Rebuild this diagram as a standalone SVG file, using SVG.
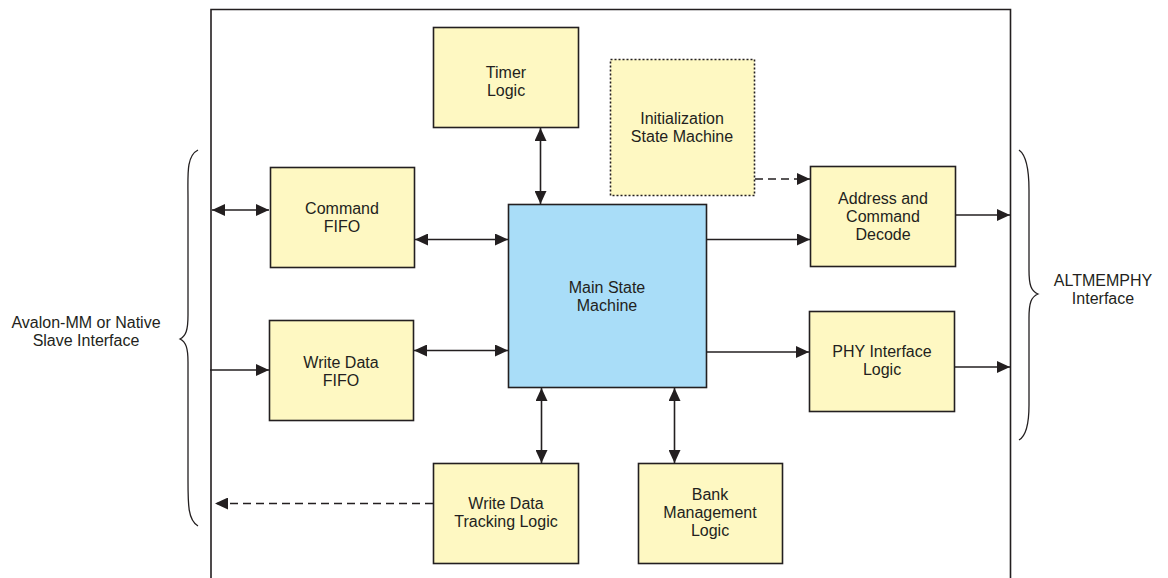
<svg xmlns="http://www.w3.org/2000/svg" width="1168" height="578" viewBox="0 0 1168 578">
<defs>
<marker id="ah" viewBox="0 0 13 12" refX="13" refY="6" markerWidth="13" markerHeight="12" markerUnits="userSpaceOnUse" orient="auto-start-reverse">
<path d="M0,0 L13,6 L0,12 Z" fill="#231f20"/>
</marker>
</defs>
<style>
.box{fill:#fef8c2;stroke:#231f20;stroke-width:1.6}
.main{fill:#a9ddf8;stroke:#231f20;stroke-width:1.6}
.dot{stroke-dasharray:2 2}
.t{font-family:"Liberation Sans",Arial,sans-serif;font-size:16px;fill:#231f20;text-anchor:middle}
.c{stroke:#231f20;stroke-width:1.6;fill:none}
.ds{stroke-dasharray:8 5}
.br{stroke:#231f20;stroke-width:1.3;fill:none}
</style>
<rect width="1168" height="578" fill="#fff"/>
<g id="frame">
<path class="c" d="M211,580 L211,9.5 L1010.5,9.5 L1010.5,580"/>
</g>
<g id="left-interface">
<path class="br" d="M198,150 C186,156 188,175 188,200 L188,315 C188,330 186,336 180,339 C186,342 188,348 188,362 L188,480 C188,505 188,520 198,526"/>
<text class="t" x="86" y="328">Avalon-MM or Native</text>
<text class="t" x="86" y="346">Slave Interface</text>
</g>
<g id="right-interface">
<path class="br" d="M1019,150 C1026,155 1029,170 1029,190 L1029,270 C1029,285 1031,291 1038,294 C1031,297 1029,303 1029,318 L1029,405 C1029,425 1026,436 1019,440"/>
<text class="t" x="1103" y="286">ALTMEMPHY</text>
<text class="t" x="1103" y="304">Interface</text>
</g>
<g id="timer">
<rect class="box" x="433.5" y="27.5" width="145" height="100"/>
<text class="t" x="506" y="78">Timer</text>
<text class="t" x="506" y="96">Logic</text>
</g>
<g id="init">
<rect class="box dot" x="610.5" y="59.5" width="144" height="136"/>
<text class="t" x="682" y="124">Initialization</text>
<text class="t" x="682" y="142">State Machine</text>
</g>
<g id="cmdfifo">
<rect class="box" x="270.5" y="167.5" width="144" height="100"/>
<text class="t" x="342" y="214">Command</text>
<text class="t" x="342" y="232">FIFO</text>
</g>
<g id="main">
<rect class="main" x="508.5" y="204.5" width="198" height="183"/>
<text class="t" x="607" y="293">Main State</text>
<text class="t" x="607" y="311">Machine</text>
</g>
<g id="addr">
<rect class="box" x="810.5" y="166.5" width="145" height="100"/>
<text class="t" x="883" y="204">Address and</text>
<text class="t" x="883" y="222">Command</text>
<text class="t" x="883" y="240">Decode</text>
</g>
<g id="wdfifo">
<rect class="box" x="269.5" y="320.5" width="144" height="100"/>
<text class="t" x="341" y="368">Write Data</text>
<text class="t" x="341" y="386">FIFO</text>
</g>
<g id="phy">
<rect class="box" x="809.5" y="311.5" width="145" height="100"/>
<text class="t" x="882" y="357">PHY Interface</text>
<text class="t" x="882" y="375">Logic</text>
</g>
<g id="wdtrack">
<rect class="box" x="433.5" y="463.5" width="145" height="100"/>
<text class="t" x="506" y="509">Write Data</text>
<text class="t" x="506" y="527">Tracking Logic</text>
</g>
<g id="bank">
<rect class="box" x="638.5" y="463.5" width="144" height="100"/>
<text class="t" x="710" y="500">Bank</text>
<text class="t" x="710" y="518">Management</text>
<text class="t" x="710" y="536">Logic</text>
</g>
<g id="connectors">
<line class="c" x1="212" y1="210" x2="269" y2="210" marker-start="url(#ah)" marker-end="url(#ah)"/>
<line class="c" x1="210" y1="370" x2="269" y2="370" marker-end="url(#ah)"/>
<line class="c" x1="415" y1="239.5" x2="508" y2="239.5" marker-start="url(#ah)" marker-end="url(#ah)"/>
<line class="c" x1="414" y1="350.5" x2="508" y2="350.5" marker-start="url(#ah)" marker-end="url(#ah)"/>
<line class="c" x1="540.5" y1="128" x2="540.5" y2="204" marker-start="url(#ah)" marker-end="url(#ah)"/>
<line class="c" x1="541.5" y1="388" x2="541.5" y2="463" marker-start="url(#ah)" marker-end="url(#ah)"/>
<line class="c" x1="674.5" y1="388" x2="674.5" y2="463" marker-start="url(#ah)" marker-end="url(#ah)"/>
<line class="c" x1="707" y1="239.5" x2="810" y2="239.5" marker-end="url(#ah)"/>
<line class="c" x1="707" y1="352" x2="809" y2="352" marker-end="url(#ah)"/>
<line class="c ds" x1="755" y1="179" x2="810" y2="179" marker-end="url(#ah)"/>
<line class="c" x1="956" y1="215" x2="1010" y2="215" marker-end="url(#ah)"/>
<line class="c" x1="955" y1="367" x2="1010" y2="367" marker-end="url(#ah)"/>
<line class="c ds" x1="433" y1="503.5" x2="215" y2="503.5" marker-end="url(#ah)"/>
</g>
</svg>
